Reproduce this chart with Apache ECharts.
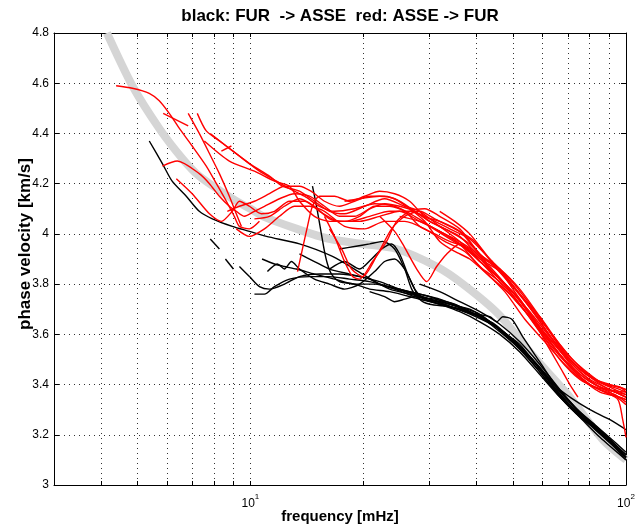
<!DOCTYPE html>
<html>
<head>
<meta charset="utf-8">
<script src="https://cdn.jsdelivr.net/npm/echarts@6/dist/echarts.min.js"></script>
<style>
  html, body { margin: 0; padding: 0; background: #fff; }
  #chart { width: 635px; height: 530px; }
</style>
</head>
<body>
<div id="chart"></div>
<script>
// Reference dispersion model: [frequency mHz, phase velocity km/s]
const refModel = [[4.15,4.80],[4.85,4.59],[5.72,4.42],[6.59,4.30],[7.31,4.23],[8.95,4.14],[10.0,4.10],[10.8,4.07],[13.3,4.02],[16.2,3.98],[19.9,3.96],[24.5,3.94],[31.3,3.87],[36.8,3.80],[45.8,3.68],[56.9,3.51],[70.0,3.36],[86.8,3.18],[100,3.10]];

// FUR -> ASSE measurements
const blackTraces = [
  [[5.38,4.37],[5.83,4.28],[6.19,4.21],[6.75,4.15],[7.31,4.09],[7.92,4.06],[8.95,4.03],[9.94,4.01],[11.03,3.99],[13.51,3.96],[16.54,3.91],[19.89,3.84],[22.08,3.80],[24.5,3.78],[30.02,3.74],[37.22,3.69],[46.13,3.62],[56.9,3.49],[70.0,3.32],[86.85,3.20],[100,3.11]],
  [[14.63,4.19],[15.0,4.11],[15.37,4.02],[15.75,3.93],[16.04,3.88],[16.44,3.84],[17.27,3.81],[18.94,3.80],[20.77,3.78],[23.48,3.77],[28.23,3.74],[33.94,3.71],[40.81,3.67],[49.05,3.59],[57.19,3.49],[66.68,3.37],[77.73,3.27],[87.9,3.20],[100,3.11]],
  [[7.82,3.98],[8.27,3.94]],
  [[8.58,3.90],[9.01,3.86]],
  [[9.35,3.87],[9.94,3.83],[10.57,3.79],[11.24,3.78],[12.32,3.80],[13.51,3.83],[15.28,3.84],[17.27,3.84],[19.53,3.83],[22.08,3.81],[24.97,3.78],[28.23,3.76],[31.92,3.74],[36.09,3.71],[40.81,3.68],[46.13,3.62],[52.15,3.56],[58.97,3.46],[66.68,3.36],[75.39,3.28],[85.24,3.21],[93.46,3.16],[100,3.12]],
  [[10.25,3.76],[10.90,3.76],[11.59,3.79],[12.71,3.82],[14.37,3.83],[16.24,3.83],[18.37,3.82],[20.77,3.81],[23.48,3.79],[26.55,3.77],[30.02,3.75],[33.94,3.72],[38.37,3.70],[43.39,3.65],[49.05,3.58],[55.46,3.51],[62.70,3.41],[70.89,3.32],[80.17,3.25],[90.64,3.18],[100,3.11]],
  [[10.74,3.90],[11.59,3.88],[12.32,3.87],[13.26,3.86],[14.81,3.84],[16.75,3.82],[18.94,3.80],[21.42,3.80],[24.21,3.78],[27.38,3.75],[30.96,3.74],[35.0,3.72],[39.57,3.68],[44.74,3.64],[50.58,3.57],[57.19,3.49],[64.65,3.40],[73.11,3.31],[82.66,3.24],[93.46,3.17],[100,3.13]],
  [[11.1,3.85],[11.8,3.88],[12.32,3.86],[12.86,3.89],[13.51,3.86],[14.81,3.82],[16.24,3.80],[17.81,3.78],[19.53,3.80],[21.42,3.85],[22.77,3.89],[24.21,3.90],[25.75,3.86],[27.0,3.80],[28.23,3.74],[30.02,3.72],[33.94,3.71],[38.37,3.69],[43.39,3.65],[49.05,3.58],[55.46,3.50],[62.70,3.40],[70.89,3.31],[80.17,3.24],[90.64,3.17],[100,3.11]],
  [[16.24,3.86],[17.81,3.89],[19.53,3.86],[21.02,3.90],[22.36,3.94],[23.77,3.96],[24.97,3.92],[26.23,3.84],[27.38,3.78],[29.11,3.74],[31.92,3.72],[36.09,3.70],[40.81,3.67],[46.13,3.61],[52.15,3.54],[58.97,3.45],[66.68,3.35],[75.39,3.27],[85.24,3.21],[100,3.10]],
  [[17.27,3.94],[18.94,3.95],[20.77,3.96],[22.49,3.97],[24.21,3.94],[25.75,3.86],[26.88,3.78],[28.23,3.74],[31.92,3.73],[38.37,3.69],[46.13,3.62],[55.46,3.51],[66.68,3.36],[80.17,3.24],[100,3.11]],
  [[24.97,3.78],[30.02,3.74],[37.22,3.69],[43.39,3.67],[45.29,3.65],[46.99,3.67],[49.66,3.66],[53.12,3.59],[58.97,3.49],[65.46,3.39],[70.89,3.35],[80.17,3.30],[90.64,3.26],[100,3.22]],
  [[28.23,3.80],[31.92,3.77],[36.09,3.73],[40.81,3.69],[46.13,3.64],[52.15,3.57],[58.97,3.48],[66.68,3.38],[75.39,3.29],[85.24,3.22],[100,3.12]],
  [[20.77,3.77],[22.77,3.75],[24.21,3.73],[25.75,3.74],[27.38,3.75],[29.11,3.74],[31.92,3.72],[36.09,3.69],[40.81,3.65],[46.13,3.60],[52.15,3.53],[58.97,3.44],[66.68,3.35],[75.39,3.27],[85.24,3.19],[100,3.10]],
  [[13.51,3.92],[14.81,3.89],[16.24,3.86],[18.37,3.84],[20.77,3.82],[23.48,3.78],[26.55,3.76],[30.02,3.74],[33.94,3.72],[39.57,3.68],[46.13,3.62],[53.78,3.53],[62.70,3.42],[73.11,3.31],[85.24,3.21],[100,3.11]]
];

// ASSE -> FUR measurements
const redTraces = [
  [[4.39,4.59],[4.85,4.58],[5.38,4.56],[5.72,4.53],[6.08,4.48],[6.47,4.42],[7.00,4.35],[7.63,4.27],[8.12,4.20],[8.63,4.13],[9.06,4.07],[9.35,4.03],[9.94,4.02],[10.57,4.05]],
  [[5.86,4.48],[6.83,4.43]],
  [[6.83,4.48],[7.31,4.40],[7.78,4.32],[8.27,4.24],[8.79,4.15],[9.17,4.08],[9.46,4.03]],
  [[7.22,4.48],[7.63,4.41],[8.27,4.37],[9.35,4.31],[10.57,4.25],[11.74,4.21],[12.71,4.18],[13.93,4.15],[15.28,4.11],[16.75,4.09],[18.94,4.10],[21.42,4.12],[24.21,4.11],[27.38,4.07],[30.96,4.02],[35.0,3.98],[39.57,3.93],[44.74,3.84],[50.58,3.76],[57.19,3.65],[64.65,3.56],[73.11,3.46],[82.66,3.40],[93.46,3.37],[100,3.35]],
  [[7.82,4.40],[8.63,4.35],[9.94,4.28],[11.24,4.23],[12.17,4.19],[13.51,4.17],[14.81,4.13],[16.24,4.09],[17.81,4.08],[20.14,4.11],[22.77,4.14],[25.75,4.11],[28.23,4.09],[31.92,4.03],[36.09,3.97],[40.81,3.90],[46.13,3.85],[52.15,3.74],[58.97,3.63],[66.68,3.52],[75.39,3.44],[85.24,3.39],[100,3.36]],
  [[8.37,4.33],[8.90,4.35]],
  [[5.83,4.27],[6.39,4.29],[7.31,4.24],[7.78,4.20],[8.27,4.15],[8.79,4.11],[9.17,4.09],[9.64,4.07],[10.25,4.09],[10.90,4.11],[11.95,4.14],[13.10,4.16],[14.37,4.15],[15.75,4.11],[17.27,4.07],[18.94,4.07],[20.77,4.10],[22.77,4.12],[24.97,4.11],[27.38,4.09],[30.02,4.05],[33.94,4.01],[38.37,3.96],[43.39,3.87],[49.05,3.78],[55.46,3.69],[62.70,3.59],[70.89,3.50],[80.17,3.43],[90.64,3.38],[100,3.37]],
  [[6.35,4.22],[7.00,4.16],[7.78,4.08],[8.37,4.05],[8.95,4.09],[9.35,4.13],[9.94,4.11],[10.70,4.08],[11.59,4.09],[12.71,4.13],[13.93,4.13],[15.28,4.09],[17.27,4.05],[19.53,4.05],[22.08,4.07],[24.97,4.09],[28.23,4.05],[31.92,4.01],[36.09,3.96],[40.81,3.87],[46.13,3.81],[52.15,3.72],[58.97,3.61],[66.68,3.50],[75.39,3.42],[85.24,3.38],[93.46,3.36],[100,3.33]],
  [[9.17,4.02],[9.94,3.99],[10.90,4.02],[11.95,4.07],[13.10,4.11],[14.37,4.11],[15.75,4.09],[17.81,4.03],[20.14,4.02],[22.77,4.05],[25.75,4.05],[29.11,4.02],[32.92,3.97],[37.22,3.93],[42.07,3.85],[47.57,3.77],[53.78,3.66],[60.81,3.57],[68.75,3.48],[77.73,3.41],[87.90,3.37],[100,3.34]],
  [[13.35,3.85],[13.76,3.94],[14.19,4.03],[14.63,4.11],[15.28,4.15],[16.75,4.15],[18.37,4.13],[20.14,4.15],[22.08,4.17],[24.21,4.16],[26.55,4.13],[29.11,4.07],[31.92,4.05],[36.09,4.01],[40.81,3.92],[46.13,3.85],[52.15,3.76],[58.97,3.65],[66.68,3.54],[75.39,3.45],[85.24,3.39],[93.46,3.37],[100,3.35]],
  [[15.75,4.07],[16.75,3.99],[17.81,3.89],[18.71,3.83],[19.53,3.82],[21.15,3.89],[23.05,3.97],[24.5,4.05],[26.55,4.09],[29.11,4.10],[31.92,4.07],[36.09,4.02],[40.81,3.92],[46.13,3.86],[52.15,3.76],[58.97,3.67],[66.68,3.56],[75.39,3.47],[85.24,3.41],[96.38,3.38],[100,3.37]],
  [[16.24,4.02],[17.49,3.94],[18.6,3.86],[19.9,3.83],[21.82,3.92],[23.77,4.02],[25.75,4.07],[28.23,4.09],[30.96,4.06],[35.0,4.02],[39.57,3.97],[44.74,3.87],[50.58,3.78],[57.19,3.68],[64.65,3.57],[73.11,3.48],[82.66,3.42],[93.46,3.38],[100,3.36]],
  [[22.08,4.07],[24.21,4.01],[25.43,3.96],[27.72,3.86],[29.47,3.81],[31.33,3.87],[33.33,3.92],[36.09,3.96],[40.81,3.89],[46.13,3.82],[52.15,3.74],[58.97,3.62],[66.68,3.52],[75.39,3.43],[85.24,3.37],[96.38,3.35],[100,3.34]],
  [[24.97,4.07],[28.23,4.05],[31.92,4.01],[36.09,3.96],[40.81,3.89],[46.13,3.82],[52.15,3.72],[58.97,3.61],[61.55,3.56],[66.68,3.47],[70.89,3.40],[74.47,3.35]],
  [[30.02,4.03],[33.94,3.98],[38.37,3.93],[43.39,3.85],[49.05,3.76],[55.46,3.67],[62.70,3.57],[70.89,3.47],[80.17,3.40],[87.90,3.37],[95.2,3.34],[98.0,3.26],[100,3.19]],
  [[7.54,4.37],[8.79,4.29],[10.25,4.25],[11.59,4.21],[12.71,4.19],[13.51,4.13],[14.81,4.07],[16.24,4.05],[18.37,4.05],[20.77,4.07],[23.48,4.09],[26.55,4.09],[30.02,4.06],[33.94,4.02],[38.37,3.98],[43.39,3.90],[49.05,3.82],[55.46,3.72],[62.70,3.61],[70.89,3.50],[80.17,3.43],[90.64,3.40],[100,3.38]],
  [[8.68,4.09],[9.35,4.11],[10.25,4.13],[11.24,4.16],[12.32,4.19],[13.51,4.19],[14.5,4.17],[15.75,4.13],[17.27,4.11],[18.94,4.13],[20.77,4.15],[22.77,4.15],[24.97,4.13],[27.38,4.09],[30.02,4.05],[32.92,4.02],[36.09,3.99],[40.81,3.91],[46.13,3.86],[52.15,3.78],[58.97,3.67],[66.68,3.55],[75.39,3.46],[85.24,3.41],[96.38,3.39],[100,3.38]],
  [[10.25,4.06],[11.24,4.07],[12.32,4.11],[13.51,4.14],[14.81,4.11],[16.24,4.06],[17.81,4.05],[19.53,4.07],[21.42,4.11],[23.48,4.11],[25.75,4.09],[28.23,4.03],[30.96,4.00],[33.94,3.97],[38.37,3.94],[43.39,3.86],[49.05,3.78],[55.46,3.68],[62.70,3.58],[70.89,3.49],[80.17,3.42],[90.64,3.38],[100,3.35]],
  [[17.81,4.13],[19.53,4.14],[22.08,4.15],[24.21,4.14],[26.55,4.10],[29.11,4.05],[31.92,3.97],[35.0,3.93],[38.37,3.90],[43.39,3.83],[49.05,3.76],[55.46,3.67],[62.70,3.56],[70.89,3.47],[80.17,3.40],[90.64,3.37],[100,3.32]],
  [[31.92,4.09],[35.0,4.05],[38.37,4.00],[43.39,3.90],[49.05,3.81],[55.46,3.71],[62.70,3.61],[70.89,3.51],[80.17,3.44],[87.90,3.40],[96.38,3.39],[100,3.37]]
];

// Axis ticks
const freqMin = 3, freqMax = 100;
const freqGrid = [4, 5, 6, 7, 8, 9, 10, 20, 30, 40, 50, 60, 70, 80, 90, 100];
const freqLabels = [10, 100];
const velMin = 3, velMax = 4.8, velStep = 0.2;

const FONT = 'Liberation Sans, Arial, Helvetica, sans-serif';
const lg = Math.log10;

function traceSeries(points, color, width, z) {
  return {
    type: 'line', data: points, xAxisIndex: 0, yAxisIndex: 0,
    showSymbol: false, symbol: 'none', smooth: 0.25, silent: true, z: z,
    lineStyle: { color: color, width: width }
  };
}

const series = [traceSeries(refModel, '#d5d5d5', 8, 2)];
blackTraces.forEach(t => series.push(traceSeries(t, '#000000', 1.4, 3)));
redTraces.forEach(t => series.push(traceSeries(t, '#ff0000', 1.4, 4)));

const dotted = { type: [1, 4], color: '#333', width: 1 };

const option = {
  animation: false,
  backgroundColor: '#fff',
  grid: { left: 54, right: 9, top: 33, bottom: 45, containLabel: false, outerBoundsMode: 'none' },
  graphic: [
    {
      type: 'text', x: 340, y: 8, silent: true,
      style: { text: 'black: FUR  -> ASSE  red: ASSE -> FUR', textAlign: 'center',
        font: 'bold 17px ' + FONT, fill: '#000' }
    },
    {
      type: 'text', x: 25, y: 244, rotation: Math.PI / 2, silent: true,
      style: { text: 'phase velocity [km/s]', textAlign: 'center', textVerticalAlign: 'middle',
        font: 'bold 17px ' + FONT, fill: '#000' }
    }
  ],
  xAxis: [
    { // data axis (logarithmic)
      type: 'log', logBase: 10, min: freqMin, max: freqMax, position: 'bottom',
      axisLine: { show: true, lineStyle: { color: '#000', width: 1 } },
      axisTick: { show: false }, axisLabel: { show: false }, splitLine: { show: false }
    },
    { // decade / sub-decade grid and labels
      type: 'value', min: lg(freqMin), max: lg(freqMax), position: 'bottom',
      name: 'frequency [mHz]', nameLocation: 'middle', nameGap: 24, nameMoveOverlap: false,
      nameTextStyle: { fontFamily: FONT, fontWeight: 'bold', fontSize: 15, color: '#000' },
      axisLine: { show: false },
      axisTick: { show: true, inside: true, length: 4, customValues: freqGrid.map(lg), lineStyle: { color: '#000' } },
      splitLine: { show: true, lineStyle: dotted },
      axisLabel: {
        customValues: freqLabels.map(lg), margin: 8,
        formatter: v => '{b|10}{s|' + Math.round(v) + '}',
        rich: {
          b: { fontFamily: FONT, fontSize: 12, color: '#000', lineHeight: 17, verticalAlign: 'bottom' },
          s: { fontFamily: FONT, fontSize: 8, color: '#000', lineHeight: 17, verticalAlign: 'top' }
        }
      }
    },
    { // top frame
      type: 'value', min: lg(freqMin), max: lg(freqMax), position: 'top',
      axisLine: { show: true, lineStyle: { color: '#000', width: 1 } },
      axisTick: { show: true, inside: true, length: 4, customValues: freqGrid.map(lg), lineStyle: { color: '#000' } },
      axisLabel: { show: false }, splitLine: { show: false }
    }
  ],
  yAxis: [
    {
      type: 'value', min: velMin, max: velMax, interval: velStep, position: 'left',
      axisLine: { show: true, lineStyle: { color: '#000', width: 1 } },
      axisTick: { show: true, inside: true, length: 5, lineStyle: { color: '#000' } },
      axisLabel: { fontFamily: FONT, fontSize: 12, color: '#000', margin: 5 },
      splitLine: { show: true, lineStyle: dotted }
    },
    {
      type: 'value', min: velMin, max: velMax, interval: velStep, position: 'right',
      axisLine: { show: true, lineStyle: { color: '#000', width: 1 } },
      axisTick: { show: true, inside: true, length: 5, lineStyle: { color: '#000' } },
      axisLabel: { show: false }, splitLine: { show: false }
    }
  ],
  series: series
};

const chart = echarts.init(document.getElementById('chart'), null, { renderer: 'canvas' });
chart.setOption(option);
</script>
</body>
</html>
